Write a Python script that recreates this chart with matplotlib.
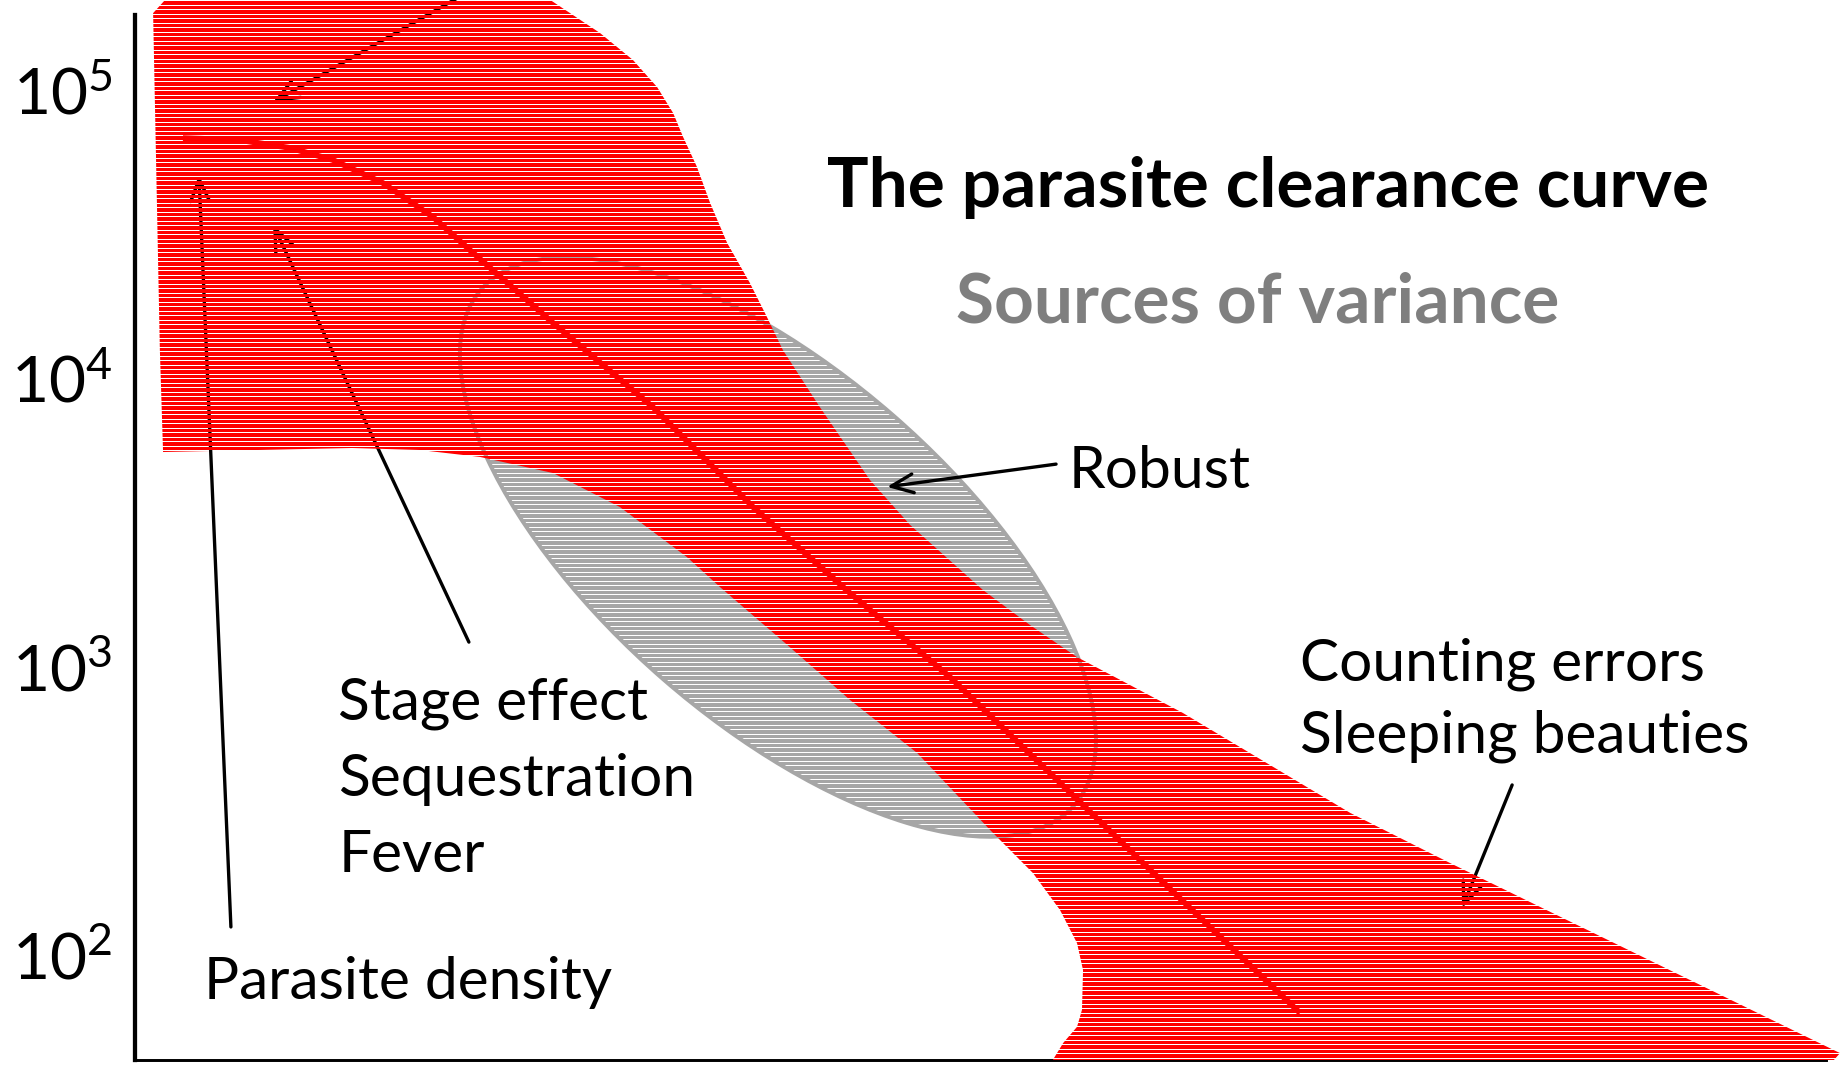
import matplotlib
matplotlib.use("Agg")
import matplotlib.pyplot as plt
from matplotlib.patches import Polygon, Ellipse
from matplotlib.transforms import Affine2D, ScaledTranslation
import numpy as np

plt.rcParams['font.family'] = ['Lato', 'DejaVu Sans']
plt.rcParams['mathtext.fontset'] = 'custom'
plt.rcParams['mathtext.rm'] = 'Lato'

# ---------------- data (time since treatment in h, log10 parasite density) ----
# outline of the red "clearance" band, clockwise from the top-left corner
band_time = [0.51, 0.90, 11.60, 13.09, 14.02, 14.70, 15.15, 15.43, 15.82, 16.19,
             16.67, 17.31, 17.79, 18.24, 19.28, 20.69, 21.82, 23.87, 25.20, 26.52,
             29.50, 34.21, 37.02, 48.00, 47.60, 25.68, 26.13, 26.52, 26.66, 26.69,
             26.52, 26.04, 25.28, 24.07, 22.02, 20.13, 18.30, 16.47, 15.54, 13.65,
             11.77, 9.71, 8.02, 6.11, 0.79, 0.70]
band_log10 = [5.267, 5.320, 5.320, 5.198, 5.104, 5.010, 4.920, 4.837, 4.733, 4.608,
              4.469, 4.330, 4.212, 4.097, 3.899, 3.646, 3.490, 3.264, 3.142, 3.031,
              2.837, 2.490, 2.316, 1.656, 1.600, 1.600, 1.691, 1.747, 1.806, 1.944,
              2.038, 2.153, 2.281, 2.431, 2.698, 2.882, 3.080, 3.274, 3.378, 3.552,
              3.670, 3.726, 3.750, 3.757, 3.743, 4.097]

# central parasite clearance curve
curve_time = [1.35, 2.96, 4.36, 5.57, 6.98, 8.39, 9.43, 11.77, 14.58, 17.40,
              20.13, 22.94, 25.76, 28.58, 32.80]
curve_log10 = [4.833, 4.826, 4.799, 4.757, 4.677, 4.559, 4.444, 4.191, 3.899, 3.552,
               3.253, 2.962, 2.628, 2.292, 1.795]

# "robust" variance ellipse centre
ellipse_time = 18.10
ellipse_log10 = 3.413

# annotation arrows: tail -> head
arrow_tail_time = [9.23, 2.70, 9.40, 25.93, 38.77]
arrow_tail_log10 = [5.330, 2.094, 3.083, 3.701, 2.587]
arrow_head_time = [3.89, 1.80, 3.89, 21.17, 37.36]
arrow_head_log10 = [4.958, 4.705, 4.531, 3.622, 2.160]

# text labels
label_texts = ["Robust", "Counting errors", "Sleeping beauties", "Stage effect",
               "Sequestration", "Fever", "Parasite density"]
label_time = [26.27, 32.80, 32.80, 5.72, 5.72, 5.72, 1.94]
label_log10 = [3.618, 2.951, 2.698, 2.813, 2.549, 2.285, 1.844]
label_width_px = [178, 405, 457, 307, 361, 143, 411]

title_texts = ["The parasite clearance curve", "Sources of variance"]
title_time = [19.48, 23.11]
title_log10 = [4.594, 4.194]
title_width_px = [884, 599]

tick_log10 = [2, 3, 4, 5]
tick_labels = [r'$\mathregular{10^{2}}$', r'$\mathregular{10^{3}}$',
               r'$\mathregular{10^{4}}$', r'$\mathregular{10^{5}}$']

# ---------------- styles ----------------
RED = (1.0, 0.0, 0.0)
GREY = (0.651, 0.651, 0.651)
TITLE_GREY = '#7F7F7F'
DPI = 96
XLIM = (0, 48)
YLIM = (1.632, 5.3125)
AX_W_PX, AX_H_PX = 1705, 1060

fig = plt.figure(figsize=(1840 / DPI, 1065 / DPI), dpi=DPI)
ax = fig.add_axes([135 / 1840, 5 / 1065, AX_W_PX / 1840, AX_H_PX / 1065])

for s in ['top', 'right']:
    ax.spines[s].set_visible(False)
ax.spines['left'].set_bounds(YLIM[0], 5.26)
ax.spines['left'].set_linewidth(3.2)
ax.spines['bottom'].set_bounds(0, 47.6)
ax.spines['bottom'].set_linewidth(2.2)
ax.set_xticks([])
ax.set_yticks(tick_log10, tick_labels)
ax.tick_params(axis='y', length=0, pad=17, labelsize=48)


def stripes(rgb):
    """Horizontal stripe texture, one image row per screen pixel (period 4.5 px)."""
    rows = np.arange(AX_H_PX)
    solid = ((rows * 2) % 9) >= 2
    img = np.zeros((AX_H_PX, 4, 4))
    img[:, :, :3] = rgb
    img[:, :, 3] = solid[:, None].astype(float)
    return img


# variance ellipse (size in pixels, placed at a data point)
ell_tr = Affine2D() + ScaledTranslation(ellipse_time, ellipse_log10, ax.transData)
ell_clip = Ellipse((0, 0), 786, 350, angle=-41, transform=ell_tr)
ell_img = ax.imshow(stripes(GREY), extent=(*XLIM, *YLIM), aspect='auto',
                    interpolation='nearest', origin='upper', zorder=1)
ell_img.set_clip_path(ell_clip)
ax.add_patch(Ellipse((0, 0), 786, 350, angle=-41, transform=ell_tr,
                     facecolor='none', edgecolor=GREY, linewidth=3.0, zorder=1.1))

# arrows (beneath the striped band)
for t0, l0, t1, l1 in zip(arrow_tail_time, arrow_tail_log10, arrow_head_time, arrow_head_log10):
    ax.annotate('', xy=(t1, l1), xytext=(t0, l0),
                arrowprops=dict(arrowstyle='->,head_length=0.75,head_width=0.32',
                                mutation_scale=22, lw=2.5, color='black',
                                shrinkA=0, shrinkB=0),
                annotation_clip=False, zorder=2)

# striped red band
band = Polygon(np.column_stack([band_time, band_log10]), closed=True,
               transform=ax.transData)
band_img = ax.imshow(stripes(RED), extent=(*XLIM, *YLIM), aspect='auto',
                     interpolation='nearest', origin='upper', zorder=3)
band_img.set_clip_path(band)

# central clearance curve
ax.plot(curve_time, curve_log10, color=RED, lw=4.3, solid_capstyle='butt',
        solid_joinstyle='round', zorder=4)

ax.set_xlim(*XLIM)
ax.set_ylim(*YLIM)

# texts
label_objs = [ax.text(t, l, s, ha='left', va='baseline', fontsize=30, color='black', zorder=6)
              for s, t, l in zip(label_texts, label_time, label_log10)]
title_objs = [ax.text(t, l, s, ha='left', va='baseline', fontsize=40, fontweight='bold',
                      color=c, zorder=6)
              for s, t, l, c in zip(title_texts, title_time, title_log10, ['black', TITLE_GREY])]

fig.canvas.draw()
r = fig.canvas.get_renderer()


def fitted_size(objs, widths):
    sizes = []
    for o, w in zip(objs, widths):
        bb = o.get_window_extent(renderer=r)
        sizes.append(o.get_fontsize() * w / bb.width)
    return float(np.median(sizes))


ls = fitted_size(label_objs, label_width_px)
for o in label_objs:
    o.set_fontsize(ls)
ts = fitted_size(title_objs, title_width_px)
for o in title_objs:
    o.set_fontsize(ts)

fig.savefig('out.png', dpi=DPI)
